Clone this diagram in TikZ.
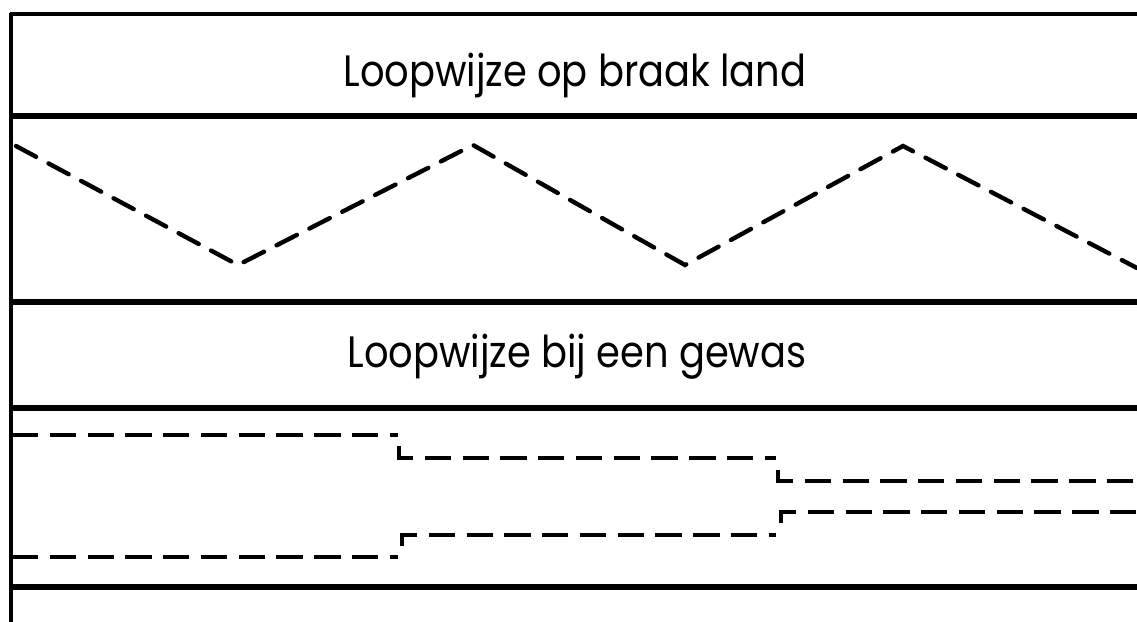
\documentclass[tikz,border=0pt]{standalone}
\usepackage{fontspec}
\setmainfont{Poppins}
\begin{document}
\begin{tikzpicture}[x=0.02cm,y=-0.02cm,
  rule/.style={line width=3pt},
  thinrule/.style={line width=2pt},
  zig/.style={line width=2.5pt, dash pattern=on 13pt off 8pt, line cap=round},
  path/.style={line width=2.5pt, dash pattern=on 15pt off 6.5pt},
  title/.style={font=\fontsize{25}{30}\selectfont, inner sep=0pt, xscale=0.875}]
\useasboundingbox (0,0) rectangle (1137,622);
\fill[white] (0,0) rectangle (1137,622);
% frame
\draw[line width=2.4pt] (11,13) -- (11,622);
\draw[thinrule] (10,14) -- (1137,14);
\draw[rule] (10,116) -- (1137,116);
\draw[rule] (10,302) -- (1137,302);
\draw[rule] (10,408) -- (1137,408);
\draw[rule] (10,587) -- (1137,587);
% titles
\node[title] (t1) at (575,75) {Loopwijze op braak land};
\node[title] (t2) at (577,357) {Loopwijze bij een gewas};
% zigzag
\draw[zig] (16,146) -- (238,265) -- (473,145) -- (685,265) -- (903,146) -- (1137,268);
% crop paths
\draw[path] (12,435) -- (398,435);
\draw[path] (399,446) |- (776,458);
\draw[path] (778,470) |- (1137,481);
\draw[path] (12,557) -- (398,557);
\draw[path] (402,546) |- (776,535);
\draw[path] (781,523) |- (1137,512);
\end{tikzpicture}
\end{document}
